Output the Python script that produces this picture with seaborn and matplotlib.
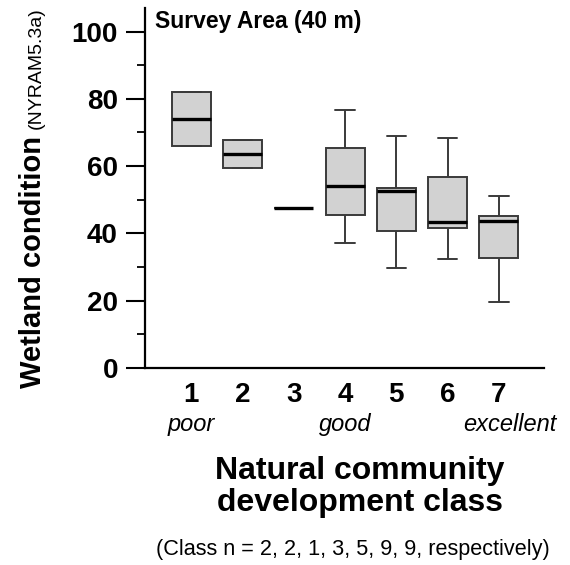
import matplotlib
matplotlib.use("Agg")
import matplotlib.pyplot as plt
import matplotlib.transforms as mtransforms
import seaborn as sns
import pandas as pd

# ---- data ----
classes = ["1", "2", "3", "4", "5", "6", "7"]
whisker_low = [66.1, 59.5, 47.5, 37.2, 29.7, 32.4, 19.6]
quartile1 = [66.1, 59.5, 47.5, 45.6, 40.6, 41.6, 32.6]
medians = [74.0, 63.6, 47.5, 54.2, 52.5, 43.3, 43.7]
quartile3 = [81.9, 67.8, 47.5, 65.5, 53.6, 56.8, 45.1]
whisker_high = [81.9, 67.8, 47.5, 76.7, 69.1, 68.3, 51.1]
y_ticks = [0, 20, 40, 60, 80, 100]
quality_labels = {"1": "poor", "4": "good", "7": "excellent"}

# five-number summaries -> long table (5 points reproduce each summary exactly)
rows = []
for c, lo, a, m, b, hi in zip(classes, whisker_low, quartile1, medians, quartile3, whisker_high):
    for v in (lo, a, m, b, hi):
        rows.append({"cls": c, "val": v})
df = pd.DataFrame(rows)

sns.set_theme(style="white")
plt.rcParams["font.family"] = ["Liberation Sans", "DejaVu Sans"]
plt.rcParams["text.color"] = "black"
plt.rcParams["xtick.color"] = "black"
plt.rcParams["ytick.color"] = "black"
plt.rcParams["axes.labelcolor"] = "black"

W, H = 570, 565
fig = plt.figure(figsize=(W / 100, H / 100), dpi=100)
ax = fig.add_axes([145 / W, 1 - 368 / H, (544 - 145) / W, (368 - 8) / H])

edge = "#3a3a3a"
sns.boxplot(data=df, x="cls", y="val", order=classes, ax=ax,
            color="#d2d2d2", saturation=1, width=0.76, whis=(0, 100),
            showfliers=False, linecolor=edge, linewidth=1.4,
            medianprops=dict(color="black", linewidth=2.4))

ax.set_xlim(-0.9, 6.88)
ax.set_ylim(0, 107)
ax.set_yticks(y_ticks)
ax.set_yticks(range(10, 100, 20), minor=True)
ax.set_yticklabels([str(t) for t in y_ticks], fontsize=20, fontweight="bold", color="black")
ax.set_xticks(range(len(classes)))
ax.set_xticklabels(classes, fontsize=20, fontweight="bold", color="black")
ax.tick_params(axis="y", which="major", direction="out", length=14, width=1.5,
               pad=5.5, left=True, color="black")
ax.tick_params(axis="y", which="minor", direction="out", length=6, width=1.3,
               left=True, color="black")
ax.tick_params(axis="x", length=0, pad=10)
ax.set_xlabel("")
ax.set_ylabel("")
for s in ("top", "right"):
    ax.spines[s].set_visible(False)
for s in ("left", "bottom"):
    ax.spines[s].set_color("black")
    ax.spines[s].set_linewidth(1.6)

def px(x, y):
    return x / W, 1 - y / H

# inside title
fig.text(*px(155, 28), "Survey Area (40 m)", fontsize=16.5, fontweight="bold",
         ha="left", va="baseline", color="black")

# quality labels under class numbers
trans = mtransforms.blended_transform_factory(ax.transData, fig.transFigure)
offsets = {"1": 0.0, "4": 0.0, "7": 0.21}
for c, lab in quality_labels.items():
    xi = classes.index(c) + offsets[c]
    ax.text(xi, 1 - 431 / H, lab, transform=trans, fontsize=17, fontstyle="italic",
            ha="center", va="baseline", color="black")

# x label (two lines) and note
fig.text(*px(360, 479), "Natural community", fontsize=23, fontweight="bold",
         ha="center", va="baseline", color="black")
fig.text(*px(360, 511), "development class", fontsize=23, fontweight="bold",
         ha="center", va="baseline", color="black")
fig.text(*px(353, 555), "(Class n = 2, 2, 1, 3, 5, 9, 9, respectively)", fontsize=15.6,
         ha="center", va="baseline", color="black")

# y label: big bold part + small normal part
t1 = fig.text(*px(41, 388), "Wetland condition", fontsize=21, fontweight="bold",
              rotation=90, rotation_mode="anchor", ha="left", va="baseline", color="black")
fig.canvas.draw()
bb = t1.get_window_extent(fig.canvas.get_renderer())
fig.text(41 / W, (bb.y1 + 7) / H, "(NYRAM5.3a)", fontsize=14,
         rotation=90, rotation_mode="anchor", ha="left", va="baseline", color="black")

fig.savefig("out.png", dpi=100)
